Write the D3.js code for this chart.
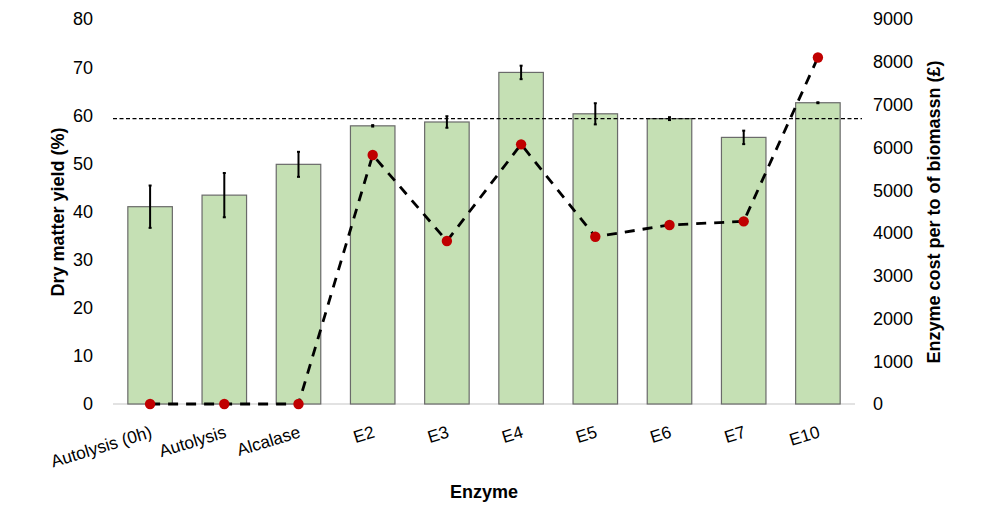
<!DOCTYPE html>
<html>
<head>
<meta charset="utf-8">
<script src="https://cdn.jsdelivr.net/npm/d3@7"></script>
<style>
  body { margin: 0; background: #fff; }
  text { font-family: "Liberation Sans", Arial, sans-serif; fill: #000; }
</style>
</head>
<body>
<svg id="chart" width="989" height="511"></svg>
<script>
// data
const enzymes = ["Autolysis (0h)", "Autolysis", "Alcalase", "E2", "E3", "E4", "E5", "E6", "E7", "E10"];
const yield_pct = [41.0, 43.4, 49.8, 57.8, 58.6, 68.9, 60.3, 59.3, 55.4, 62.6];
const yield_err = [4.4, 4.6, 2.6, 0.15, 1.2, 1.4, 2.2, 0.3, 1.4, 0.1];
const cost_gbp = [0, 0, 0, 5820, 3810, 6070, 3910, 4185, 4270, 8100];
const ref_yield = 59.3;
const left_ticks = [0, 10, 20, 30, 40, 50, 60, 70, 80];
const right_ticks = [0, 1000, 2000, 3000, 4000, 5000, 6000, 7000, 8000, 9000];

const svg = d3.select("#chart");

// plot area
let x0 = 113, x1 = 855, y_top = 19, y_bot = 404;

let x = d3.scaleBand()
  .domain(enzymes)
  .range([x0, x1])
  .paddingInner(0.4)
  .paddingOuter(0.2);

let y = d3.scaleLinear().domain([0, 80]).range([y_bot, y_top]);
let y2 = d3.scaleLinear().domain([0, 9000]).range([y_bot, y_top]);

// baseline
svg.append("line")
  .attr("x1", x0).attr("x2", x1)
  .attr("y1", y(0)).attr("y2", y(0))
  .attr("stroke", "#d9d9d9").attr("stroke-width", 1.5);

// bars
svg.selectAll("rect.bar")
  .data(enzymes)
  .join("rect")
  .attr("class", "bar")
  .attr("x", d => x(d))
  .attr("y", (d, i) => y(yield_pct[i]))
  .attr("width", x.bandwidth())
  .attr("height", (d, i) => y(0) - y(yield_pct[i]))
  .attr("fill", "#c5e0b4")
  .attr("stroke", "#6a6a6a")
  .attr("stroke-width", 1.2);

// error bars
let cx = d => x(d) + x.bandwidth() / 2;
let err = svg.append("g");
enzymes.forEach((d, i) => {
  let lo = y(yield_pct[i] - yield_err[i]);
  let hi = y(yield_pct[i] + yield_err[i]);
  err.append("line")
    .attr("x1", cx(d)).attr("x2", cx(d))
    .attr("y1", lo).attr("y2", hi)
    .attr("stroke", "#000").attr("stroke-width", 2);
  err.selectAll(null)
    .data([lo, hi])
    .join("line")
    .attr("x1", cx(d) - 1.5).attr("x2", cx(d) + 1.5)
    .attr("y1", v => v).attr("y2", v => v)
    .attr("stroke", "#000").attr("stroke-width", 2);
});

// reference line
svg.append("line")
  .attr("x1", x0).attr("x2", 862)
  .attr("y1", y(ref_yield)).attr("y2", y(ref_yield))
  .attr("stroke", "#000").attr("stroke-width", 1.4)
  .attr("stroke-dasharray", "4,2.5");

// cost line
let line = d3.line()
  .x((d, i) => cx(enzymes[i]))
  .y(d => y2(d));

svg.append("path")
  .datum(cost_gbp)
  .attr("d", line)
  .attr("fill", "none")
  .attr("stroke", "#000")
  .attr("stroke-width", 2.8)
  .attr("stroke-dasharray", "10,8");

svg.selectAll("circle.dot")
  .data(cost_gbp)
  .join("circle")
  .attr("class", "dot")
  .attr("cx", (d, i) => cx(enzymes[i]))
  .attr("cy", d => y2(d))
  .attr("r", 5.2)
  .attr("fill", "#c00000");

// left axis labels
svg.selectAll("text.ly")
  .data(left_ticks)
  .join("text")
  .attr("class", "ly")
  .attr("x", 93)
  .attr("y", d => y(d))
  .attr("dy", "0.36em")
  .attr("text-anchor", "end")
  .style("font-size", "18px")
  .text(d => d);

// right axis labels
svg.selectAll("text.ry")
  .data(right_ticks)
  .join("text")
  .attr("class", "ry")
  .attr("x", 873)
  .attr("y", d => y2(d))
  .attr("dy", "0.36em")
  .attr("text-anchor", "start")
  .style("font-size", "18px")
  .text(d => d);

// category labels, tilted
svg.selectAll("text.cat")
  .data(enzymes)
  .join("text")
  .attr("class", "cat")
  .attr("text-anchor", "end")
  .attr("transform", d => `translate(${cx(d) + 3},${437}) rotate(-17)`)
  .style("font-size", "17.3px")
  .text(d => d);

// axis titles
svg.append("text")
  .attr("transform", `translate(64,212) rotate(-90)`)
  .attr("text-anchor", "middle")
  .style("font-size", "18px")
  .style("font-weight", "bold")
  .text("Dry matter yield (%)");

svg.append("text")
  .attr("transform", `translate(940,212) rotate(-90)`)
  .attr("text-anchor", "middle")
  .style("font-size", "18px")
  .style("font-weight", "bold")
  .text("Enzyme cost per to of biomassn (£)");

svg.append("text")
  .attr("x", 484)
  .attr("y", 498)
  .attr("text-anchor", "middle")
  .style("font-size", "18px")
  .style("font-weight", "bold")
  .text("Enzyme");
</script>
</body>
</html>
